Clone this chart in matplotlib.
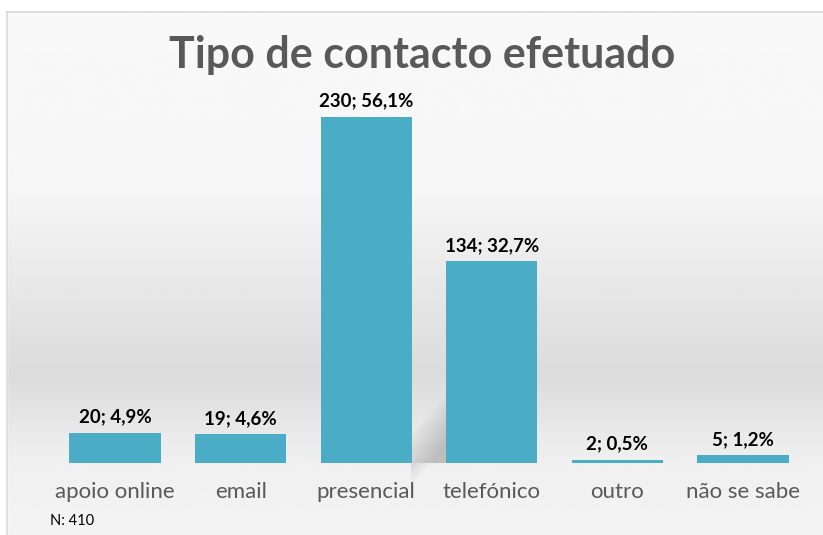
import numpy as np
import matplotlib.pyplot as plt
from matplotlib.patches import Polygon

categories = ['apoio online', 'email', 'presencial', 'telefónico', 'outro', 'não se sabe']
counts = [20, 19, 230, 134, 2, 5]
percents = ['4,9%', '4,6%', '56,1%', '32,7%', '0,5%', '1,2%']
title = 'Tipo de contacto efetuado'
note = 'N: 410'

W, H = 823, 535
fig = plt.figure(figsize=(W / 100, H / 100), dpi=100)

# background: vertical gradient with light border at top/left
bg = fig.add_axes([0, 0, 1, 1])
rows = np.linspace(0, 1, 200)
stops_y = [0.0, 0.02, 0.35, 0.70, 0.86, 1.0]
stops_v = [1.0, 0.975, 0.965, 0.86, 0.94, 0.955]
vals = np.interp(rows, stops_y, stops_v)
img = np.repeat(vals[:, None], 2, axis=1)
bg.imshow(img, cmap='gray', vmin=0, vmax=1, aspect='auto',
          extent=[0, W, H, 0], interpolation='bicubic')
bg.fill_between([0, W], 0, 12, color='white')
bg.fill_between([0, 7], 0, H, color='white')
bg.plot([7, W], [12, 12], color='#d8d8d8', lw=1.2)
bg.plot([7, 7], [12, H], color='#d8d8d8', lw=1.2)
bg.set_xlim(0, W)
bg.set_ylim(H, 0)
bg.axis('off')

# soft shadow behind the tall bar
for k in range(12):
    t = k / 11
    top = 395 + 50 * t
    bg.add_patch(Polygon([[411, 463], [411, top + 40], [446, top],
                          [446, 463]], closed=True, color='#707070',
                         alpha=0.035, lw=0))

ax = fig.add_axes([52.2 / W, 1 - 463 / H, 753.6 / W, 383 / H])
ax.patch.set_alpha(0)
x = np.arange(len(categories))
ax.bar(x, counts, width=0.725, color='#4BACC6', zorder=3)
for xi, c, p in zip(x, counts, percents):
    ax.text(xi, c + 5, f'{c}; {p}', ha='center', va='bottom',
            fontsize=13.5, fontweight='bold', color='black', family='Lato')
ax.set_xlim(-0.5, len(categories) - 0.5)
ax.set_ylim(0, 254.6)
ax.set_xticks(x)
ax.set_xticklabels(categories, fontsize=16, color='#595959', family='Lato')
ax.tick_params(axis='x', length=0, pad=14)
ax.set_yticks([])
for s in ax.spines.values():
    s.set_visible(False)

fig.text(422 / W, 1 - 55 / H, title, ha='center', va='center', fontsize=31,
         fontweight='bold', color='#595959', family='Lato')
fig.text(50 / W, 1 - 521 / H, note, ha='left', va='center', fontsize=10.5,
         color='black', family='Lato')

fig.savefig('out.png', dpi=100)
